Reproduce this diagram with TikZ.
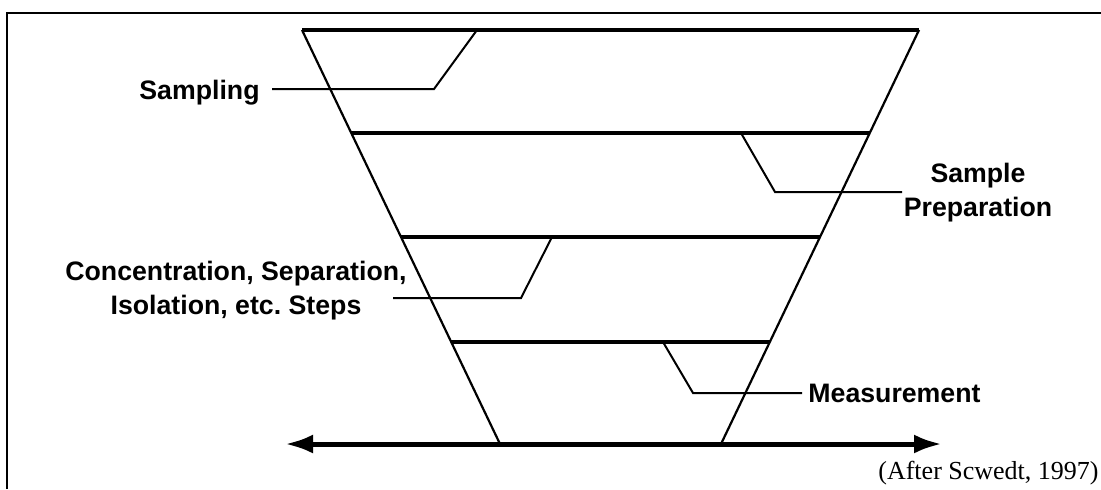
\documentclass[tikz,border=0pt]{standalone}
\usepackage{fontspec}
\setmainfont{Liberation Serif}
\setsansfont{Liberation Sans}
\usetikzlibrary{arrows.meta}

\begin{document}
\begin{tikzpicture}[x=0.5pt,y=-0.5pt,
        level/.style={line width=1.6pt},
        side/.style={line width=1.1pt},
        lead/.style={line width=1pt},
        lbl/.style={font=\sffamily\bfseries\frenchspacing\fontsize{13.35}{17}\selectfont,inner sep=0pt,align=center},
        axis/.style={line width=2.5pt,{Latex[length=14pt,width=9.5pt]}-{Latex[length=14pt,width=9.5pt]}}]
        \useasboundingbox (0,0) rectangle (1101,489);
        \draw[line width=0.65pt] (7,489) -- (7,13) -- (1101,13);
        % funnel
        \coordinate (tl) at (302,30);
        \coordinate (tr) at (919,30);
        \coordinate (bl) at (500,444);
        \coordinate (br) at (721,444);
        \draw[side] (tl) -- (bl);
        \draw[side] (tr) -- (br);
        \draw[level] (tl) -- (tr);
        \foreach \ya/\xl/\xr in {133/351.3/869.7,237/401/820,342/451.2/769.8}
            \draw[level] (\xl,\ya) -- (\xr,\ya);
        \coordinate (al) at (285,444);
        \coordinate (ar) at (942,444);
        \draw[axis] (al) -- (ar);
        % labels
        \node[lbl,anchor=base east] (sampling) at (260,99) {Sampling};
        \node[lbl,anchor=north] (prep) at (978,163) {Sample\\Preparation};
        \node[lbl,anchor=north] (conc) at (236,261) {Concentration, Separation,\\Isolation, etc. Steps};
        \node[lbl,anchor=base west] (meas) at (808,402) {Measurement};
        \node[font=\fontsize{13}{15}\selectfont,inner sep=0pt,anchor=base east] (after) at (1099,479) {(After Scwedt, 1997)};
        % leaders
        \coordinate (s1) at (477,30);  \coordinate (s2) at (434,89);  \coordinate (s3) at (272,89);
        \coordinate (p1) at (741,133); \coordinate (p2) at (775,192); \coordinate (p3) at (902,192);
        \coordinate (c1) at (552,237); \coordinate (c2) at (521,298); \coordinate (c3) at (393,298);
        \coordinate (m1) at (663,342); \coordinate (m2) at (693,393); \coordinate (m3) at (802,393);
        \draw[lead] (s1) -- (s2) -- (s3);
        \draw[lead] (p1) -- (p2) -- (p3);
        \draw[lead] (c1) -- (c2) -- (c3);
        \draw[lead] (m1) -- (m2) -- (m3);
\end{tikzpicture}
\end{document}
